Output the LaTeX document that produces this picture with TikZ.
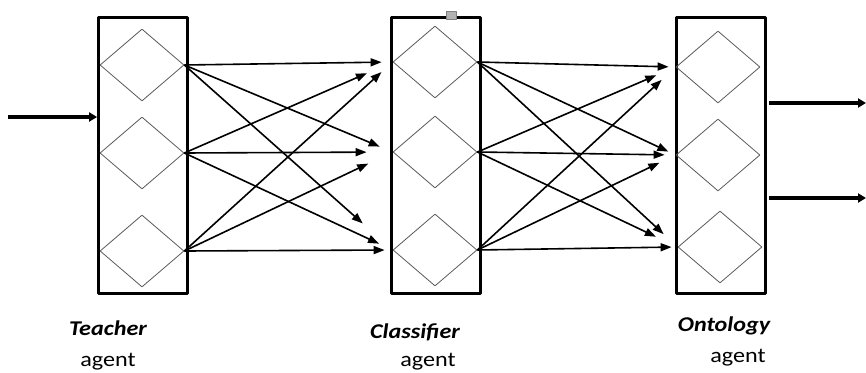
\documentclass[tikz,border=0pt]{standalone}
\usepackage{fontspec}
\setmainfont{Carlito}
\usetikzlibrary{arrows.meta,shapes.geometric}

\begin{document}
\begin{tikzpicture}[x=1pt, y=-1pt, line join=round,
    agentbox/.style={draw, line width=2.8pt, minimum width=89pt, minimum height=276pt, inner sep=0pt},
    unit/.style={diamond, draw=gray!70!black, line width=0.8pt, minimum width=84pt, minimum height=72pt, inner sep=0pt},
    conn/.style={line width=1.6pt, -{Triangle[length=11pt, width=8pt]}},
    io/.style={line width=3.2pt, -{Triangle[length=8pt, width=9pt]}},
    agentname/.style={font=\fontsize{21}{24}\selectfont\bfseries\itshape, anchor=base, xscale=1.15, transform shape},
    agentkind/.style={font=\fontsize{21}{24}\selectfont, anchor=base, xscale=1.15, transform shape}]
    \useasboundingbox (0,0) rectangle (866,372);

    % The three agents
    \node[agentbox] (teacher)    at (143,155.5) {};
    \node[agentbox] (classifier) at (436,155.5) {};
    \node[agentbox] (ontology)   at (721,155.5) {};
    \node[draw=gray, fill=gray!60, minimum width=10pt, minimum height=8pt, inner sep=0pt] (handle) at (451,15) {};

    % Units inside each agent
    \foreach \i/\ty/\cy/\ox/\oy in {1/65/62/718/67, 2/153/152/718/155, 3/251/250/720/247}{
      \node[unit] (t\i) at (142,\ty) {};
      \node[unit] (c\i) at (435,\cy) {};
      \node[unit] (o\i) at (\ox,\oy) {};
    }

    % Teacher -> Classifier
    \foreach \s/\t/\sh in {1/1/11, 2/1/28, 3/1/15, 1/2/14, 2/2/26, 3/2/27, 1/3/40, 2/3/15, 3/3/8}
      \draw[conn, shorten >=\sh pt] (t\s.east) -- (c\t.west);

    % Classifier -> Ontology
    \foreach \s/\t/\sh in {1/1/7, 2/1/21, 3/1/19, 1/2/8, 2/2/11, 3/2/18, 1/3/19, 2/3/24, 3/3/6}
      \draw[conn, shorten >=\sh pt] (c\s.east) -- (o\t.west);

    % Input and outputs
    \coordinate (in)   at (8,117);
    \coordinate (out1) at (866,103);
    \coordinate (out2) at (866,198);
    \draw[io] (in) -- (in -| teacher.west);
    \draw[io, shorten <=2pt] (out1 -| ontology.east) -- (out1);
    \draw[io, shorten <=2pt] (out2 -| ontology.east) -- (out2);

    % Labels
    \node[agentname] (tname) at (108,335) {Teacher};
    \node[agentkind] (tkind) at (108,366) {agent};
    \node[agentname] (cname) at (415,338) {Classifier};
    \node[agentkind] (ckind) at (428,366) {agent};
    \node[agentname] (oname) at (724,331) {Ontology};
    \node[agentkind] (okind) at (738,362) {agent};
\end{tikzpicture}
\end{document}
